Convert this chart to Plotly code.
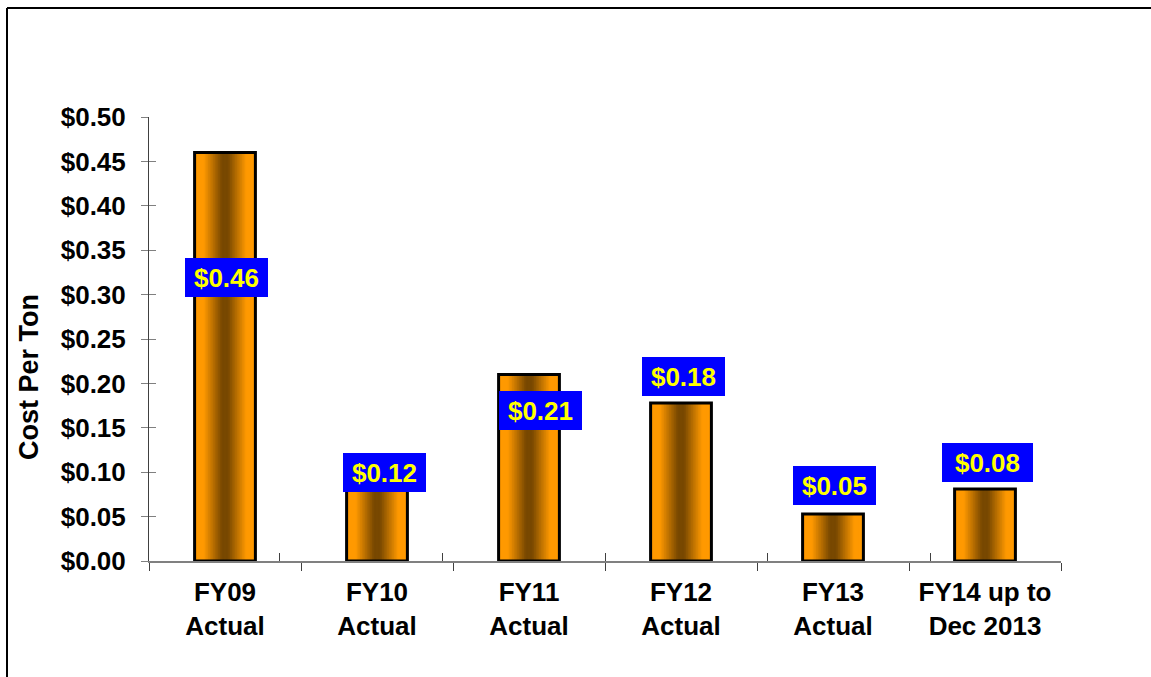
import plotly.graph_objects as go

# ---- data ----
categories = ["FY09<br>Actual", "FY10<br>Actual", "FY11<br>Actual", "FY12<br>Actual",
              "FY13<br>Actual", "FY14 up to<br>Dec 2013"]
cost_per_ton = [0.46, 0.12, 0.21, 0.178, 0.053, 0.081]
y_tick_values = [0.0, 0.05, 0.10, 0.15, 0.20, 0.25, 0.30, 0.35, 0.40, 0.45, 0.50]

# ---- style / layout (not data) ----
label_y = [0.319, 0.100, 0.169, 0.208, 0.0845, 0.111]   # data-label anchor heights
label_xshift = [1, 7, 11, 2, 1, 2]
label_box_w = [71, 71, 71, 71, 71, 79]
FONT = "Liberation Sans, Arial, sans-serif"
ORANGE = (255, 153, 0)
BROWN = (120, 72, 0)
BAR_W = 0.4
N_LAYERS = 18

fig = go.Figure()

def mix(t):
    r, g, b = [round(o * (1 - t) + br * t) for o, br in zip(ORANGE, BROWN)]
    return f"rgb({r},{g},{b})"

# gradient bars: overlaid bars of decreasing width, darker toward the centre
for k in range(N_LAYERS):
    d = (k + 0.5) / N_LAYERS
    t = min(max((d - 0.3) / 0.6, 0.0), 1.0)
    fig.add_trace(go.Bar(
        x=categories, y=cost_per_ton,
        width=BAR_W * (1 - k / N_LAYERS),
        marker=dict(color=mix(t), line=dict(width=0)),
        hoverinfo="skip", showlegend=False,
    ))

# outline
fig.add_trace(go.Bar(
    x=categories, y=cost_per_ton, width=BAR_W,
    marker=dict(color="rgba(0,0,0,0)", line=dict(color="black", width=3)),
    showlegend=False,
))

# invisible trace for the overlay axes (inside half of crossing ticks)
fig.add_trace(go.Scatter(
    x=categories, y=cost_per_ton, xaxis="x2", yaxis="y2",
    mode="markers", marker=dict(opacity=0), hoverinfo="skip", showlegend=False,
))

# data labels
for cat, v, ly, xs, bw in zip(categories, cost_per_ton, label_y, label_xshift, label_box_w):
    fig.add_annotation(
        x=cat, y=ly, xshift=xs, text=f"${v:.2f}", showarrow=False,
        font=dict(family=FONT, size=26, color="#FFFF00", weight="bold"),
        bgcolor="#0000FF", borderpad=6, borderwidth=0,
        width=bw, height=27, align="center",
        xanchor="center", yanchor="middle",
    )

# y-axis title
fig.add_annotation(
    xref="paper", yref="paper", x=-0.1316, y=0.4144, text="Cost Per Ton",
    textangle=-90, showarrow=False, xanchor="center", yanchor="middle",
    font=dict(family=FONT, size=27, color="black", weight="bold"),
)

# outer frame (top and left edges of the chart area)
fig.add_shape(type="line", xref="paper", yref="paper",
              x0=-0.1557, x1=1.2, y0=1.2455, y1=1.2455,
              line=dict(color="black", width=2))
fig.add_shape(type="line", xref="paper", yref="paper",
              x0=-0.1557, x1=-0.1557, y0=1.2455, y1=-0.35,
              line=dict(color="black", width=2))

axis_font = dict(family=FONT, size=26, color="black", weight="bold")

fig.update_layout(
    width=1151, height=677,
    margin=dict(l=149, r=90, t=117, b=116),
    paper_bgcolor="white", plot_bgcolor="white",
    barmode="overlay", bargap=0.6,
    font=dict(family=FONT),
    xaxis=dict(
        type="category", showline=True, linecolor="#808080", linewidth=2,
        ticks="outside", ticklen=8, tickcolor="#404040", tickwidth=1,
        tickson="boundaries", showgrid=False, zeroline=False,
        tickfont=axis_font, ticklabelstandoff=7,
    ),
    yaxis=dict(
        range=[0, 0.5], tickvals=y_tick_values, tickformat="$.2f",
        showline=True, linecolor="#404040", linewidth=1,
        ticks="outside", ticklen=7, tickcolor="#808080", tickwidth=1,
        showgrid=False, zeroline=False, tickfont=axis_font,
        ticklabelstandoff=10,
    ),
    xaxis2=dict(
        type="category", overlaying="x", anchor="y2", side="bottom",
        ticks="inside", ticklen=8, tickcolor="#404040", tickwidth=1,
        tickson="boundaries", showticklabels=False, showline=False,
        showgrid=False, zeroline=False,
    ),
    yaxis2=dict(
        range=[0, 0.5], tickvals=y_tick_values, overlaying="y", anchor="x2", side="left",
        ticks="inside", ticklen=7, tickcolor="#808080", tickwidth=1,
        showticklabels=False, showline=False, showgrid=False, zeroline=False,
    ),
)

fig.write_html("out.html")
